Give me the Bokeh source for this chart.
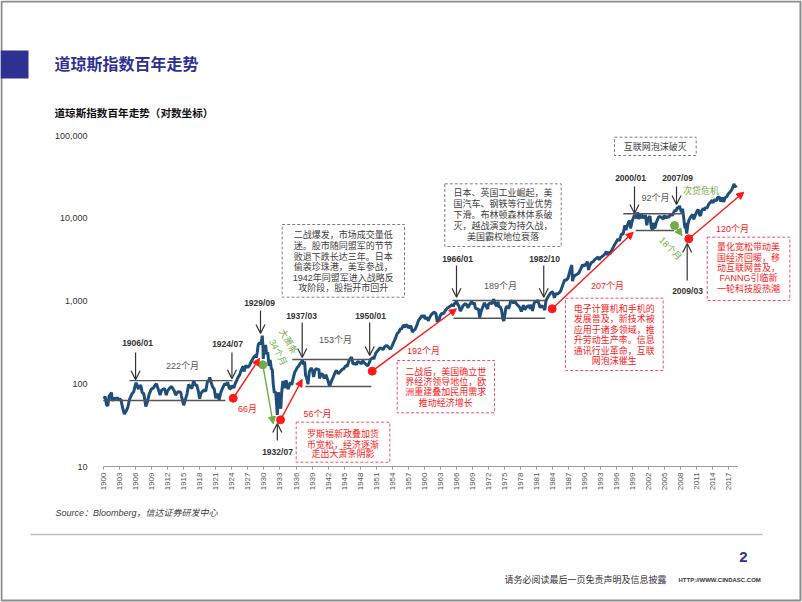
import math
from bokeh.plotting import figure
from bokeh.models import Range1d, LinearScale, FixedTicker, NumeralTickFormatter, Arrow, OpenHead, NormalHead
from bokeh.core.properties import value
from bokeh.embed import file_html
from bokeh.resources import INLINE

# ---------------- data (Dow Jones Industrial Average) ----------------
dow_series = [
    (1900.0, 66), (1900.25, 70), (1900.5, 56), (1900.75, 54), (1901.0, 71), (1901.25, 75), (1901.45, 78),
    (1901.55, 62), (1901.75, 68), (1902.0, 65), (1902.3, 67), (1902.6, 67), (1902.9, 64), (1903.2, 65),
    (1903.5, 52), (1903.85, 43), (1904.2, 47), (1904.5, 52), (1904.8, 64), (1905.0, 69), (1905.3, 76),
    (1905.6, 80), (1905.9, 96), (1906.05, 103), (1906.3, 93), (1906.5, 86), (1906.7, 95), (1906.95, 94),
    (1907.2, 78), (1907.5, 76), (1907.87, 53), (1908.2, 62), (1908.5, 75), (1908.9, 86), (1909.3, 89),
    (1909.6, 96), (1909.85, 100), (1910.2, 86), (1910.55, 73), (1910.8, 83), (1911.1, 86), (1911.4, 87),
    (1911.7, 73), (1911.95, 82), (1912.3, 88), (1912.7, 93), (1912.95, 87), (1913.2, 82), (1913.45, 73),
    (1913.8, 79), (1914.0, 80), (1914.4, 79), (1914.55, 71), (1914.95, 55), (1915.3, 65), (1915.6, 76),
    (1915.9, 98), (1916.2, 92), (1916.5, 88), (1916.85, 110), (1917.1, 96), (1917.4, 97), (1917.7, 82),
    (1917.95, 66), (1918.2, 77), (1918.5, 81), (1918.8, 84), (1919.1, 81), (1919.4, 106), (1919.6, 107),
    (1919.85, 119), (1920.1, 104), (1920.4, 91), (1920.7, 86), (1920.97, 67), (1921.3, 76), (1921.6, 64),
    (1921.95, 80), (1922.3, 90), (1922.65, 100), (1922.9, 97), (1923.2, 104), (1923.5, 88), (1923.8, 87),
    (1924.0, 95), (1924.35, 89), (1924.6, 100), (1924.9, 110), (1925.2, 121), (1925.45, 128), (1925.7, 144),
    (1925.95, 156), (1926.15, 162), (1926.25, 140), (1926.6, 166), (1926.95, 157), (1927.3, 166),
    (1927.6, 185), (1927.95, 202), (1928.2, 214), (1928.45, 220), (1928.55, 206), (1928.75, 240),
    (1928.9, 290), (1928.97, 300), (1929.2, 312), (1929.4, 298), (1929.6, 350), (1929.68, 381),
    (1929.82, 273), (1929.87, 199), (1929.97, 248), (1930.3, 294), (1930.5, 226), (1930.7, 240),
    (1930.95, 165), (1931.15, 194), (1931.4, 150), (1931.55, 150), (1931.75, 97), (1931.95, 78),
    (1932.2, 80), (1932.5, 42), (1932.7, 79), (1932.9, 58), (1933.15, 50), (1933.3, 77), (1933.55, 108),
    (1933.8, 88), (1933.95, 99), (1934.15, 110), (1934.5, 86), (1934.7, 93), (1934.95, 104), (1935.2, 97),
    (1935.5, 119), (1935.8, 140), (1935.95, 144), (1936.2, 156), (1936.5, 164), (1936.8, 177),
    (1936.95, 179), (1937.2, 192), (1937.45, 170), (1937.6, 187), (1937.8, 125), (1937.95, 121),
    (1938.25, 99), (1938.5, 140), (1938.85, 155), (1939.1, 144), (1939.3, 121), (1939.55, 145),
    (1939.75, 152), (1939.95, 150), (1940.3, 148), (1940.4, 116), (1940.7, 131), (1940.95, 131),
    (1941.3, 116), (1941.6, 128), (1941.95, 111), (1942.3, 93), (1942.6, 106), (1942.95, 119),
    (1943.3, 136), (1943.55, 145), (1943.9, 132), (1944.3, 141), (1944.6, 148), (1944.95, 152),
    (1945.3, 165), (1945.6, 163), (1945.95, 193), (1946.4, 210), (1946.7, 172), (1946.95, 177),
    (1947.3, 170), (1947.5, 185), (1947.95, 181), (1948.3, 175), (1948.5, 190), (1948.9, 176),
    (1949.45, 164), (1949.8, 185), (1950.0, 198), (1950.45, 207), (1950.55, 197), (1950.95, 235),
    (1951.3, 250), (1951.7, 270), (1951.95, 269), (1952.3, 258), (1952.6, 280), (1952.95, 291),
    (1953.2, 282), (1953.7, 262), (1953.95, 281), (1954.3, 319), (1954.6, 350), (1954.95, 404),
    (1955.3, 425), (1955.6, 468), (1955.75, 455), (1955.95, 488), (1956.25, 512), (1956.4, 478),
    (1956.6, 518), (1956.95, 499), (1957.15, 470), (1957.5, 505), (1957.8, 420), (1957.95, 436),
    (1958.3, 455), (1958.6, 500), (1958.95, 584), (1959.3, 623), (1959.6, 670), (1959.8, 630),
    (1959.98, 679), (1960.2, 605), (1960.45, 640), (1960.8, 575), (1960.95, 616), (1961.3, 680),
    (1961.7, 720), (1961.95, 731), (1962.2, 706), (1962.45, 560), (1962.6, 590), (1962.8, 580),
    (1962.95, 652), (1963.3, 710), (1963.6, 700), (1963.95, 763), (1964.3, 815), (1964.6, 840),
    (1964.95, 874), (1965.3, 910), (1965.45, 860), (1965.7, 930), (1965.95, 969), (1966.08, 995),
    (1966.3, 900), (1966.5, 880), (1966.75, 760), (1966.95, 785), (1967.3, 880), (1967.7, 930),
    (1967.95, 905), (1968.2, 830), (1968.5, 900), (1968.9, 985), (1969.1, 920), (1969.4, 950),
    (1969.6, 820), (1969.95, 800), (1970.2, 790), (1970.4, 631), (1970.7, 760), (1970.95, 839),
    (1971.3, 950), (1971.6, 870), (1971.9, 800), (1971.98, 890), (1972.3, 950), (1972.7, 930),
    (1972.95, 1020), (1973.05, 1051), (1973.3, 920), (1973.6, 870), (1973.85, 980), (1973.95, 850),
    (1974.2, 860), (1974.5, 780), (1974.75, 600), (1974.95, 577), (1975.3, 820), (1975.55, 870),
    (1975.8, 810), (1975.95, 852), (1976.2, 990), (1976.5, 1000), (1976.75, 940), (1976.95, 1004),
    (1977.3, 920), (1977.6, 880), (1977.95, 831), (1978.2, 745), (1978.6, 890), (1978.85, 790),
    (1978.95, 805), (1979.3, 860), (1979.7, 880), (1979.85, 800), (1979.95, 839), (1980.1, 900),
    (1980.3, 759), (1980.6, 940), (1980.9, 1000), (1980.95, 964), (1981.3, 1020), (1981.6, 880),
    (1981.75, 830), (1981.95, 875), (1982.3, 850), (1982.6, 776), (1982.8, 1000), (1982.95, 1047),
    (1983.3, 1150), (1983.6, 1230), (1983.9, 1287), (1984.1, 1270), (1984.4, 1090), (1984.6, 1220),
    (1984.95, 1212), (1985.3, 1260), (1985.6, 1330), (1985.95, 1546), (1986.3, 1800), (1986.6, 1780),
    (1986.95, 1896), (1987.3, 2300), (1987.65, 2722), (1987.8, 1738), (1987.95, 1939), (1988.3, 2050),
    (1988.6, 2100), (1988.95, 2168), (1989.3, 2420), (1989.7, 2750), (1989.8, 2590), (1989.95, 2753),
    (1990.3, 2700), (1990.55, 2999), (1990.8, 2365), (1990.95, 2634), (1991.3, 2900), (1991.7, 3010),
    (1991.95, 3168), (1992.3, 3300), (1992.6, 3390), (1992.8, 3140), (1992.95, 3301), (1993.3, 3430),
    (1993.6, 3570), (1993.95, 3754), (1994.1, 3978), (1994.3, 3600), (1994.6, 3900), (1994.9, 3700),
    (1994.95, 3834), (1995.3, 4300), (1995.6, 4700), (1995.95, 5117), (1996.3, 5600), (1996.55, 5350),
    (1996.8, 6000), (1996.95, 6448), (1997.25, 6400), (1997.3, 6600), (1997.6, 8200), (1997.8, 7160),
    (1997.95, 7908), (1998.3, 9000), (1998.5, 9337), (1998.65, 7539), (1998.95, 9181), (1999.3, 10500),
    (1999.45, 11000), (1999.8, 10000), (1999.95, 11497), (2000.04, 11723), (2000.2, 9796),
    (2000.4, 10500), (2000.7, 11300), (2000.8, 9975), (2000.95, 10787), (2001.3, 10000),
    (2001.45, 11000), (2001.7, 8236), (2001.95, 10021), (2002.3, 10600), (2002.55, 7700),
    (2002.8, 7286), (2002.9, 8800), (2002.99, 8342), (2003.2, 7524), (2003.5, 9000), (2003.95, 10454),
    (2004.3, 10400), (2004.8, 9750), (2004.95, 10783), (2005.3, 10100), (2005.6, 10600),
    (2005.8, 10200), (2005.95, 10718), (2006.3, 11300), (2006.5, 10700), (2006.8, 12000),
    (2006.95, 12463), (2007.15, 12200), (2007.45, 13600), (2007.65, 13000), (2007.78, 14165),
    (2007.95, 13265), (2008.2, 11800), (2008.4, 13000), (2008.55, 11000), (2008.75, 8500),
    (2008.88, 7552), (2008.95, 8776), (2009.18, 6547), (2009.4, 8500), (2009.6, 9500), (2009.95, 10428),
    (2010.3, 11100), (2010.5, 9700), (2010.95, 11578), (2011.3, 12800), (2011.6, 11000),
    (2011.75, 10655), (2011.95, 12218), (2012.3, 13200), (2012.45, 12400), (2012.7, 13600),
    (2012.95, 13104), (2013.3, 14800), (2013.6, 15500), (2013.95, 16577), (2014.1, 15400),
    (2014.5, 17000), (2014.8, 16200), (2014.95, 17823), (2015.3, 18000), (2015.6, 16000),
    (2015.9, 17700), (2015.99, 17425), (2016.1, 15660), (2016.4, 17800), (2016.7, 18200),
    (2016.95, 19763), (2017.3, 20700), (2017.6, 22000), (2017.95, 24719), (2018.07, 26149),
    (2018.15, 24000), (2018.3, 24600), (2018.45, 23500),
]
years = [t for t, _ in dow_series]
dow = [v for _, v in dow_series]

x_ticks = list(range(1900, 2018, 3))
y_ticks = [10, 100, 1000, 10000, 100000]

# consolidation bands: (start year, end year, index level)
band_lines = [
    (1904.8, 1924.1, 109), (1899.9, 1922.8, 62.8),
    (1935.3, 1950.0, 196), (1937.8, 1950.1, 92.7),
    (1965.3, 1982.7, 1014), (1965.5, 1982.7, 620),
    (1997.3, 2008.6, 11330), (1999.6, 2006.8, 7110),
]
# grey date arrows: (year, tail level, tip level)
date_arrows = [
    (1905.95, 239, 112), (1924.0, 239, 115), (1929.35, 767, 405), (1932.5, 20.6, 33.1),
    (1937.16, 550, 207), (1949.8, 550, 219), (1966.06, 2687, 1111), (1982.4, 2687, 1111),
    (1999.4, 24200, 11400), (2007.27, 24200, 14650), (2009.27, 1770, 4955),
]
# red rally arrows: (start year, start level, end year, end level)
rally_arrows = [
    (1924.24, 66.8, 1929.16, 202), (1933.1, 36.6, 1937.16, 112.5), (1950.27, 142, 1966.06, 805),
    (1983.98, 805, 1999.16, 6774), (2009.57, 5650, 2019.87, 20650),
]
# green crash arrows
crash_arrows = [(1929.78, 169.5, 1931.73, 32.8), (2006.9, 8170, 2008.33, 6170)]

# ---------------- geometry ----------------
W, H = 802, 602
X0_PX, PX_PER_YEAR = 103.3, 5.339
Y10_PX, PX_PER_DECADE = 466.0, 82.75
x_start = 1900 - X0_PX / PX_PER_YEAR
x_end = 1900 + (W - X0_PX) / PX_PER_YEAR
y_start = 10 ** (1 - (H - Y10_PX) / PX_PER_DECADE)
y_end = 10 ** (1 + Y10_PX / PX_PER_DECADE)

NAVY = "#2E3192"
LINE_BLUE = "#1F4E79"
DARK = "#333333"
GREY = "#595959"
RED = "#FF1A1A"
RED_BORDER = "#F0506A"
GREEN = "#70AD47"
FONT = "Liberation Sans, Noto Sans CJK SC"

p = figure(width=W, height=H, x_range=Range1d(x_start, x_end), y_range=Range1d(y_start, y_end),
           y_axis_type="log", output_backend="svg", toolbar_location=None, title=None,
           min_border=0, background_fill_color="white", border_fill_color="white")
p.outline_line_color = None
p.grid.visible = False
p.extra_x_ranges = {"px": Range1d(0, W)}
p.extra_y_ranges = {"py": Range1d(H, 0)}
p.extra_x_scales = {"px": LinearScale()}
p.extra_y_scales = {"py": LinearScale()}

# axes drawn inside the frame at fixed positions
xa = p.xaxis[0]
xa.fixed_location = 10
xa.bounds = (1899.9, 2018.7)
xa.ticker = FixedTicker(ticks=x_ticks)
xa.major_label_orientation = math.pi / 2
xa.major_label_text_font_size = "8px"
xa.major_label_text_color = "#555555"
xa.major_label_text_font = "Liberation Sans"
xa.major_label_standoff = 3
xa.axis_line_color = "#999999"
xa.major_tick_line_color = "#999999"
xa.major_tick_out = 3
xa.major_tick_in = 0
xa.minor_tick_line_color = None

ya = p.yaxis[0]
ya.fixed_location = x_start + 100 / PX_PER_YEAR
ya.ticker = FixedTicker(ticks=y_ticks)
ya.formatter = NumeralTickFormatter(format="0,0")
ya.major_label_text_font_size = "9px"
ya.major_label_text_color = "#333333"
ya.major_label_text_font = "Liberation Sans"
ya.major_label_standoff = 7
ya.axis_line_color = None
ya.major_tick_line_color = None
ya.minor_tick_line_color = None


def ptext(x, y, s, size, color, style="normal", align="center", angle=0.0):
    p.text(x=[x], y=[y], text=[s], x_range_name="px", y_range_name="py",
           text_font=value(FONT), text_font_size=f"{size}px", text_color=color,
           text_font_style=style, text_align=align, text_baseline="middle", angle=angle)


def pbox(l, r, t, b, color, dash="3 2", width=1.0, fill=None):
    p.quad(left=[l], right=[r], top=[t], bottom=[b], x_range_name="px", y_range_name="py",
           fill_color=fill if fill else "white", fill_alpha=1 if fill else 0,
           line_color=color, line_dash=dash, line_width=width)


# page frame and header
pbox(1, 800, 1, 600, "#8c8c8c", dash="solid", width=2)
pbox(0, 28, 50, 78, None, dash="solid", fill=NAVY)
ptext(54, 64, "道琼斯指数百年走势", 16, NAVY, "bold", "left")
ptext(54, 112, "道琼斯指数百年走势（对数坐标）", 10.6, "#111111", "bold", "left")

# data line
p.line(years, dow, line_color=LINE_BLUE, line_width=3)

# consolidation bands
p.segment(x0=[b[0] for b in band_lines], x1=[b[1] for b in band_lines],
          y0=[b[2] for b in band_lines], y1=[b[2] for b in band_lines],
          line_color="#555555", line_width=1.4)

for yr, v0, v1 in date_arrows:
    p.add_layout(Arrow(end=OpenHead(size=9, line_color=DARK, line_width=1.2),
                       x_start=yr, y_start=v0, x_end=yr, y_end=v1, line_color=DARK, line_width=1.2))

for x0, y0, x1, y1 in rally_arrows:
    p.add_layout(Arrow(end=NormalHead(size=7, fill_color=RED, line_color=RED),
                       x_start=x0, y_start=y0, x_end=x1, y_end=y1, line_color=RED, line_width=1.4))
p.scatter([a[0] for a in rally_arrows], [a[1] for a in rally_arrows], size=8, color=RED)

for x0, y0, x1, y1 in crash_arrows:
    p.add_layout(Arrow(end=NormalHead(size=7, fill_color=GREEN, line_color=GREEN),
                       x_start=x0, y_start=y0, x_end=x1, y_end=y1, line_color=GREEN, line_width=1.4))
p.scatter([a[0] for a in crash_arrows], [a[1] for a in crash_arrows], size=8, color=GREEN)

# date labels
for s, x, y in [("1906/01", 137, 342), ("1924/07", 227, 343), ("1929/09", 259, 302), ("1932/07", 277, 451),
                ("1937/03", 301, 315), ("1950/01", 370, 315), ("1966/01", 457, 258), ("1982/10", 544, 258),
                ("2000/01", 630, 177), ("2007/09", 677, 177), ("2009/03", 687, 290)]:
    ptext(x, y, s, 8.5, DARK, "bold")

# duration labels
for s, x, y in [("222个月", 182, 365), ("153个月", 335, 339), ("189个月", 500, 285), ("92个月", 655, 197)]:
    ptext(x, y, s, 9, GREY)
for s, x, y in [("66月", 247, 408), ("56个月", 317, 413), ("192个月", 423, 350), ("207个月", 607, 285),
                ("120个月", 732, 228)]:
    ptext(x, y, s, 9, RED)
ptext(287.5, 341, "大萧条", 9, GREEN, angle=-1.05)
ptext(277.5, 352, "34个月", 9, GREEN, angle=-1.1)
ptext(670, 248, "18个月", 9, GREEN, angle=-0.8)
ptext(700.5, 190, "次贷危机", 9, GREEN)

# grey comment boxes
pbox(281.7, 404, 224, 296.7, "#808080")
for s, y in zip(["二战爆发，市场成交量低", "迷。股市随同盟军的节节", "败退下跌长达三年。日本",
                 "偷袭珍珠港，美军参战，", "1942年同盟军进入战略反", "攻阶段，股指开市回升"],
                [234.3, 245.3, 256, 266.7, 277.3, 287.7]):
    ptext(342.8, y, s, 9, "#404040")
pbox(444.3, 560.7, 183.3, 246, "#808080")
for s, y in zip(["日本、英国工业崛起，美", "国汽车、钢铁等行业优势", "下滑。布林顿森林体系破",
                 "灭，越战演变为持久战，", "美国霸权地位衰落"],
                [192.7, 203.5, 214.3, 225.3, 236.3]):
    ptext(502.5, y, s, 9, "#404040")
pbox(614, 695.7, 136.7, 155, "#808080")
ptext(654.8, 146, "互联网泡沫破灭", 9, "#404040")

# red comment boxes
pbox(295.7, 389.3, 421.7, 461.7, RED_BORDER)
for s, y in zip(["罗斯福新政叠加货", "币宽松，经济逐渐", "走出大萧条阴影"], [433.5, 444, 453.8]):
    ptext(342.5, y, s, 9, RED)
pbox(396.7, 494, 360, 412.3, RED_BORDER)
for s, y in zip(["二战后，美国确立世", "界经济领导地位，欧", "洲重建叠加民用需求", "推动经济增长"],
                [371.7, 381.5, 391.7, 402.3]):
    ptext(445.3, y, s, 9, RED)
pbox(565, 662.7, 297.7, 370, RED_BORDER)
for s, y in zip(["电子计算机和手机的", "发展普及，新技术被", "应用于诸多领域，推", "升劳动生产率。信息",
                 "通讯行业革命，互联", "网泡沫催生"],
                [308, 318.5, 329, 339.5, 350, 360.5]):
    ptext(613.8, y, s, 9, RED)
pbox(706.7, 789.3, 236.7, 300, RED_BORDER)
for s, y in zip(["量化宽松带动美", "国经济回暖，移", "动互联网普及，", "FANNG引临新", "一轮科技股热潮"],
                [246.7, 257.3, 267.5, 277.7, 288.3]):
    ptext(748, y, s, 9, RED)

# source and footer
ptext(55, 512, "Source：Bloomberg，信达证券研发中心", 9, "#404040", "italic", "left")
p.segment(x0=[30], x1=[762], y0=[534], y1=[534], x_range_name="px", y_range_name="py",
          line_color="#bfbfbf", line_width=1.5)
ptext(743, 556, "2", 15, NAVY, "bold")
ptext(504, 579, "请务必阅读最后一页免责声明及信息披露", 9, "#333333", "normal", "left")
ptext(678, 579, "HTTP://WWW.CINDASC.COM", 6, "#333333", "bold", "left")

open("out.html", "w").write(file_html(p, INLINE))
